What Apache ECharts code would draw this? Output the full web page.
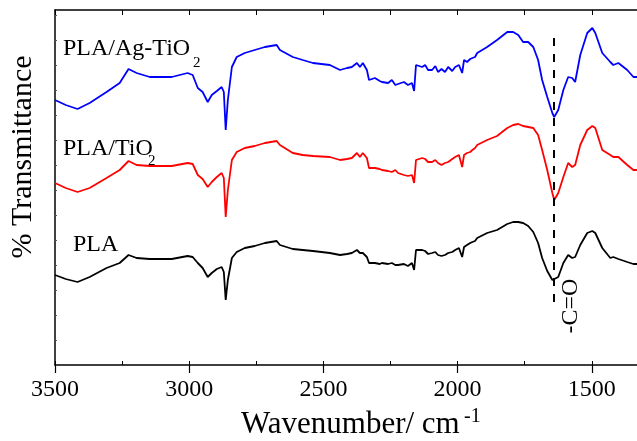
<!DOCTYPE html>
<html>
<head>
<meta charset="utf-8">
<script src="https://cdn.jsdelivr.net/npm/echarts@6/dist/echarts.min.js"></script>
<style>
html,body{margin:0;padding:0;background:#fff;}
#chart{width:637px;height:441px;}
</style>
</head>
<body>
<div id="chart"></div>
<script>
// Wavenumber (cm^-1), shared by all three spectra
const wavenumbers = [3500,3460,3416,3371,3308,3259,3226,3196,3147,3110,
3065,3006,2987,2968,2950,2931,2916,2897,2879,2871,
2864,2856,2841,2823,2793,2756,2718,2674,2662,2614,
2577,2539,2476,2438,2412,2394,2375,2364,2353,2338,
2330,2323,2308,2290,2282,2259,2245,2232,2222,2200,
2185,2170,2162,2155,2132,2121,2110,2095,2083,2073,
2060,2047,2035,2020,2009,1995,1983,1976,1965,1953,
1945,1935,1927,1890,1853,1815,1793,1774,1756,1737,
1718,1700,1685,1666,1647,1640,1625,1606,1588,1573,
1562,1543,1517,1498,1487,1461,1431,1420,1401,1368,
1345,1330];

// Transmittance (arbitrary units, offset spectra)
const plaAgTiO2 = [265,260,256,262,273,282,296,292,288,288,
288,292,290,277,273,263,270,274,278,273,
235,265,298,308,312,315,318,320,315,308,
305,302,300,295,297,298,302,298,302,295,
285,285,287,284,283,282,285,280,281,283,
280,282,274,300,298,300,295,295,299,293,
296,293,298,294,298,300,292,305,303,306,
307,308,312,318,325,333,333,330,323,323,
318,305,285,268,252,248,255,275,288,287,
283,310,332,337,332,312,303,300,302,295,
288,288];

const plaTiO2 = [182,177,173,177,187,195,204,200,199,199,
199,202,201,190,186,178,183,188,192,187,
148,175,205,213,217,219,222,224,220,212,
210,209,208,205,206,207,212,208,212,207,
197,198,197,196,195,194,193,195,192,190,
189,190,182,205,207,206,203,203,205,202,
200,202,203,206,208,210,198,210,212,213,
215,217,220,225,229,237,240,241,239,238,
237,230,215,195,172,165,172,188,202,198,
200,220,235,239,237,215,210,208,208,200,
195,195];

const pla = [90,86,83,88,97,102,110,107,106,106,
106,109,108,102,97,88,92,96,98,93,
65,85,107,113,117,119,122,124,120,116,
115,114,112,110,111,112,115,112,112,108,
102,102,102,101,102,101,102,100,100,101,
99,102,95,115,115,114,111,112,113,110,
109,110,112,113,115,117,108,118,120,122,
123,124,127,132,135,141,143,143,142,139,
133,122,107,94,85,83,88,102,110,107,
108,120,132,134,132,117,107,108,106,103,
101,101];

const seriesNames = ['PLA/Ag-TiO2','PLA/TiO2','PLA'];
const seriesColors = ['#0000ff','#ff0000','#000000'];
const tickLabels = ['3500','3000','2500','2000','1500'];
const carbonylWavenumber = 1640;
const carbonylSpan = [327, 55];

const serif = "Liberation Serif";

function pairs(vals){ return wavenumbers.map((w,i)=>[w, vals[i]]); }

const chart = echarts.init(document.getElementById('chart'), null, {renderer:'canvas'});

const xCommon = {type:'value', inverse:true, min:1000, max:3500, splitLine:{show:false}};

chart.setOption({
  animation:false,
  backgroundColor:'#fff',
  grid:{left:55, top:10, width:671, height:355, containLabel:false, outerBoundsMode:'none'},
  xAxis:[
    Object.assign({}, xCommon, {
      position:'bottom', interval:500,
      axisLine:{show:true, onZero:false, lineStyle:{color:'#000', width:1.5}},
      axisTick:{show:true, inside:false, length:8, lineStyle:{color:'#000', width:1.2}},
      axisLabel:{show:true, margin:13, color:'#000', fontFamily:serif, fontSize:24,
        formatter:v => tickLabels.indexOf(String(v))>=0 ? String(v) : ''}
    }),
    Object.assign({}, xCommon, {
      position:'bottom', interval:250,
      axisLine:{show:false, onZero:false},
      axisTick:{show:true, inside:true, length:4, lineStyle:{color:'#000', width:1}},
      axisLabel:{show:false}
    }),
    Object.assign({}, xCommon, {
      position:'top', interval:250,
      axisLine:{show:true, onZero:false, lineStyle:{color:'#000', width:1.5}},
      axisTick:{show:true, inside:true, length:5, lineStyle:{color:'#000', width:1}},
      axisLabel:{show:false}
    })
  ],
  yAxis:{
    type:'value', min:0, max:355, interval:25,
    axisLine:{show:true, onZero:false, lineStyle:{color:'#000', width:1.5}},
    axisTick:{show:true, inside:true, length:2, lineStyle:{color:'#555', width:1}},
    axisLabel:{show:false}, splitLine:{show:false}
  },
  series:[
    {name:seriesNames[0], type:'line', data:pairs(plaAgTiO2), showSymbol:false, xAxisIndex:0,
     lineStyle:{color:seriesColors[0], width:1.8}, itemStyle:{color:seriesColors[0]}},
    {name:seriesNames[1], type:'line', data:pairs(plaTiO2), showSymbol:false, xAxisIndex:0,
     lineStyle:{color:seriesColors[1], width:1.8}, itemStyle:{color:seriesColors[1]}},
    {name:seriesNames[2], type:'line', data:pairs(pla), showSymbol:false, xAxisIndex:0,
     lineStyle:{color:seriesColors[2], width:1.8}, itemStyle:{color:seriesColors[2]},
     markLine:{silent:true, symbol:['none','none'], label:{show:false},
       lineStyle:{color:'#000', width:2, type:[8,8]},
       data:[[{coord:[carbonylWavenumber, carbonylSpan[0]]},{coord:[carbonylWavenumber, carbonylSpan[1]]}]]}}
  ],
  graphic:[
    {type:'text', x:23, y:157, rotation:Math.PI/2,
      style:{text:'% Transmittance', font:'30px '+serif, fill:'#000', align:'center', verticalAlign:'middle'}},
    {type:'text', x:241, y:425,
      style:{text:'Wavenumber/ cm', font:'31px '+serif, fill:'#000', align:'left', verticalAlign:'middle'}},
    {type:'text', x:464, y:417,
      style:{text:'-1', font:'20px '+serif, fill:'#000', align:'left', verticalAlign:'middle'}},
    {type:'text', x:63, y:49,
      style:{text:'PLA/Ag-TiO', font:'24px '+serif, fill:'#000', align:'left', verticalAlign:'middle'}},
    {type:'text', x:193, y:63,
      style:{text:'2', font:'15px '+serif, fill:'#000', align:'left', verticalAlign:'middle'}},
    {type:'text', x:63, y:149,
      style:{text:'PLA/TiO', font:'24px '+serif, fill:'#000', align:'left', verticalAlign:'middle'}},
    {type:'text', x:148, y:161,
      style:{text:'2', font:'15px '+serif, fill:'#000', align:'left', verticalAlign:'middle'}},
    {type:'text', x:73, y:245,
      style:{text:'PLA', font:'24px '+serif, fill:'#000', align:'left', verticalAlign:'middle'}},
    {type:'text', x:571, y:306, rotation:Math.PI/2,
      style:{text:'-C=O', font:'24px '+serif, fill:'#000', align:'center', verticalAlign:'middle'}}
  ]
});
</script>
</body>
</html>
